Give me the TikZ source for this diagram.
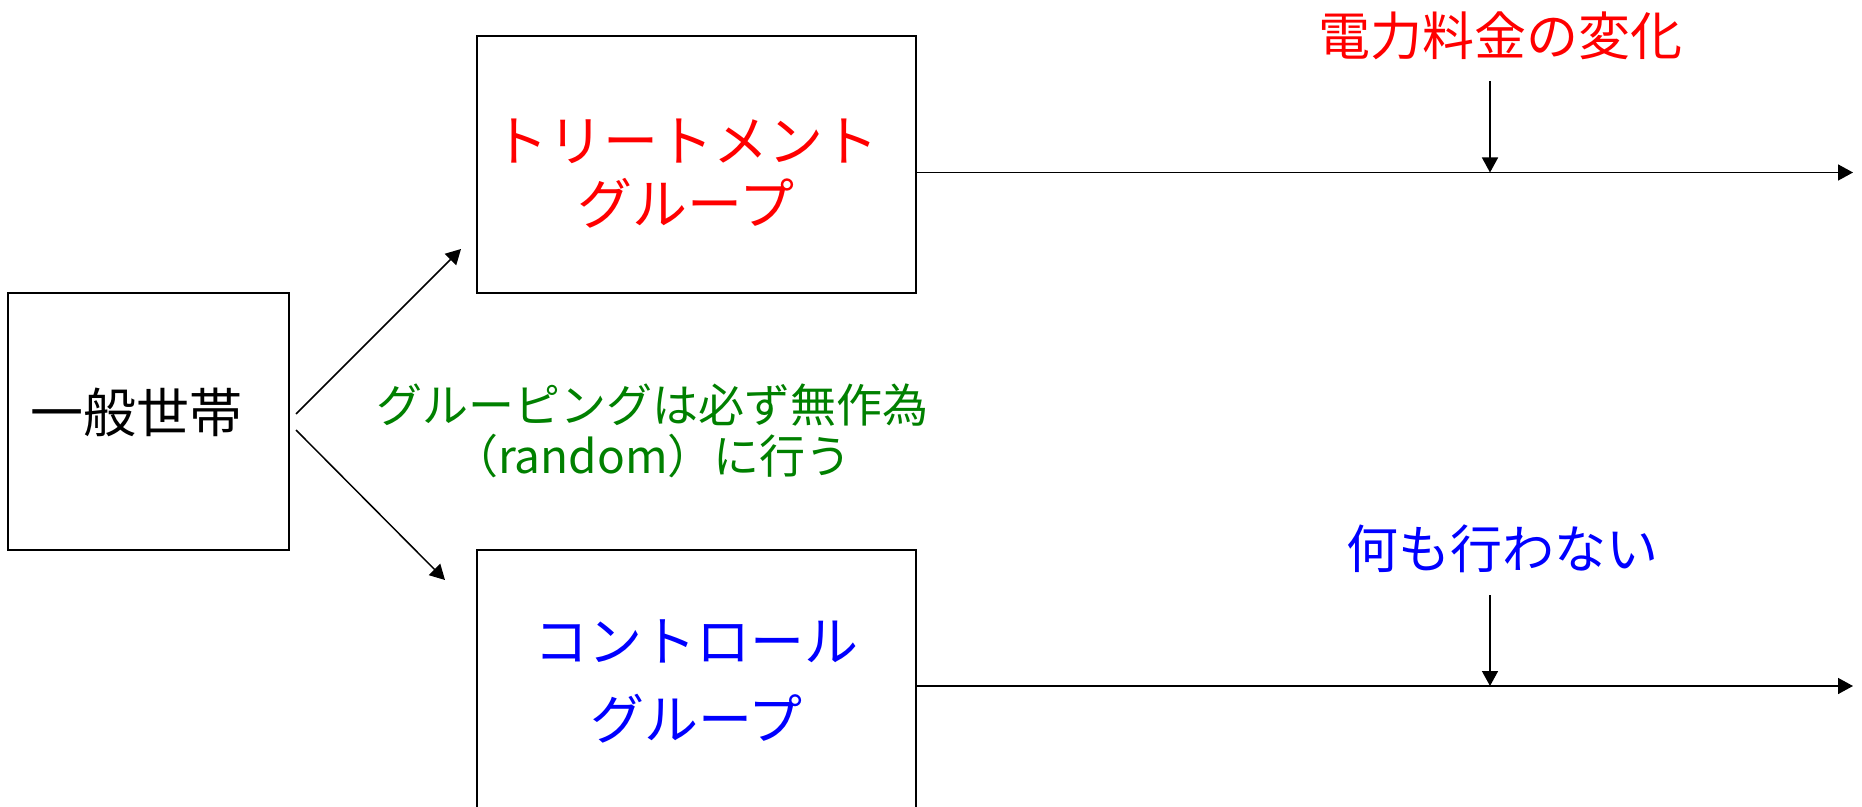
\documentclass[tikz,border=0pt]{standalone}
\usepackage{fontspec}
\setmainfont{Noto Sans CJK JP}
\usetikzlibrary{arrows.meta}
\definecolor{tred}{RGB}{255,0,0}
\definecolor{cblue}{RGB}{0,0,255}
\definecolor{rgreen}{RGB}{0,128,0}
\begin{document}
\begin{tikzpicture}[x=0.5pt,y=-0.5pt,
  boxstyle/.style={draw=black,line width=0.75pt,inner sep=0pt},
  conn/.style={line width=0.75pt,-{Triangle[length=7.5pt,width=8pt]}},
  labeltext/.style={inner sep=0pt,align=center}]
\useasboundingbox (0,0) rectangle (1862,807);
\node[boxstyle,minimum width=281pt*0.5,minimum height=257pt*0.5] (house) at (148.5,421.5) {};
\node[boxstyle,minimum width=439pt*0.5,minimum height=257pt*0.5] (treat) at (696.5,164.5) {};
\node[boxstyle,minimum width=439pt*0.5,minimum height=262pt*0.5] (ctrl) at (696.5,681) {};
\node[labeltext,font=\fontsize{26.5}{32}\selectfont] (housetext) at (136,412) {一般世帯};
\node[labeltext,text=tred,font=\fontsize{27.5}{31.5}\selectfont] (treattext) at (686,173.5) {トリートメント\\[0pt]グループ};
\node[labeltext,text=cblue,font=\fontsize{27}{39}\selectfont] (ctrltext) at (696.5,681) {コントロール\\[0pt]グループ};
\node[labeltext,text=rgreen,font=\fontsize{23}{25.5}\selectfont] (note) at (652,431) {グルーピングは必ず無作為\\（random）に行う};
\node[labeltext,text=tred,font=\fontsize{26}{30}\selectfont] (ltop) at (1500,36) {電力料金の変化};
\node[labeltext,text=cblue,font=\fontsize{26}{30}\selectfont] (lbot) at (1502,549) {何も行わない};
\coordinate (endT) at (1853,172.5);
\coordinate (endC) at (1853,686);
\coordinate (vT0) at (1490,81);
\coordinate (vT1) at (1490,172.5);
\coordinate (vC0) at (1490,595);
\coordinate (vC1) at (1490,686);
\coordinate (dU0) at (296,414);
\coordinate (dU1) at (461,249);
\coordinate (dL0) at (296,430);
\coordinate (dL1) at (445,580);
\draw[conn] (dU0) -- (dU1);
\draw[conn] (dL0) -- (dL1);
\draw[conn] (treat.east |- endT) -- (endT);
\draw[conn] (ctrl.east |- endC) -- (endC);
\draw[conn] (vT0) -- (vT1);
\draw[conn] (vC0) -- (vC1);
\end{tikzpicture}
\end{document}
